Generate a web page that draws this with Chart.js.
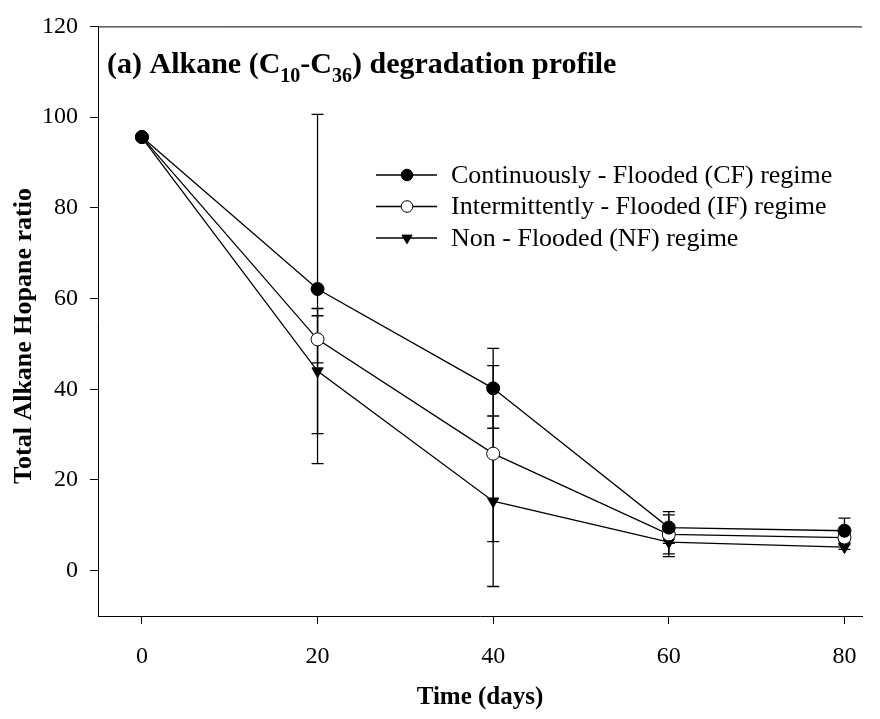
<!DOCTYPE html>
<html>
<head>
<meta charset="utf-8">
<script src="https://cdn.jsdelivr.net/npm/chart.js@4/dist/chart.umd.min.js"></script>
<style>
  html, body { margin: 0; padding: 0; background: #fff; }
  canvas { display: block; }
</style>
</head>
<body>
<canvas id="c" width="880" height="719"></canvas>
<script>
// data
const days = [0, 20, 40, 60, 80];
const cfMean = [95.6, 62.1, 40.2, 9.5, 8.8];
const cfErr  = [0, 38.5, 8.8, 3.5, 2.8];
const ifMean = [95.6, 51.0, 25.8, 8.0, 7.3];
const ifErr  = [0, 5.2, 19.4, 4.3, 1.0];
const nfMean = [95.5, 44.0, 15.3, 6.3, 5.2];
const nfErr  = [0, 13.8, 18.8, 3.2, 0.5];
const seriesLabels = [
  'Continuously - Flooded (CF) regime',
  'Intermittently - Flooded (IF) regime',
  'Non - Flooded (NF) regime'
];
const xTicks = [0, 20, 40, 60, 80];
const yTicks = [0, 20, 40, 60, 80, 100, 120];

const SERIF = '"Liberation Serif", "Times New Roman", serif';

function pts(mean) {
  return days.map((d, i) => ({ x: d, y: mean[i] }));
}

const errs = [cfErr, ifErr, nfErr];

// error bars, drawn under the markers
const errorBars = {
  id: 'errorBars',
  beforeDatasetsDraw(chart) {
    const ctx = chart.ctx;
    const xs = chart.scales.x, ys = chart.scales.y;
    ctx.save();
    ctx.strokeStyle = '#000';
    ctx.lineWidth = 1.3;
    chart.data.datasets.forEach((ds, k) => {
      ds.data.forEach((p, i) => {
        const e = errs[k][i];
        if (!e) return;
        const px = xs.getPixelForValue(p.x);
        const top = ys.getPixelForValue(p.y + e);
        const bot = ys.getPixelForValue(p.y - e);
        ctx.beginPath();
        ctx.moveTo(px, top); ctx.lineTo(px, bot);
        ctx.moveTo(px - 6, top); ctx.lineTo(px + 6, top);
        ctx.moveTo(px - 6, bot); ctx.lineTo(px + 6, bot);
        ctx.stroke();
      });
    });
    ctx.restore();
  }
};

// top frame line, title with subscripts, y title, legend
const decor = {
  id: 'decor',
  afterDraw(chart) {
    const ctx = chart.ctx;
    const a = chart.chartArea;
    ctx.save();
    ctx.strokeStyle = '#000';
    ctx.lineWidth = 1;
    ctx.beginPath();
    ctx.moveTo(a.left, a.top + 0.5);
    ctx.lineTo(a.right, a.top + 0.5);
    ctx.stroke();

    // title
    ctx.fillStyle = '#000';
    ctx.textBaseline = 'alphabetic';
    const big = 'bold 30px ' + SERIF, small = 'bold 20px ' + SERIF;
    const parts = [
      ['(a) Alkane (C', big, 0],
      ['10', small, 9],
      ['-C', big, 0],
      ['36', small, 9],
      [') degradation profile', big, 0]
    ];
    let x = 107;
    parts.forEach(([t, f, dy]) => {
      ctx.font = f;
      ctx.fillText(t, x, 73 + dy);
      x += ctx.measureText(t).width;
    });

    // y axis title
    ctx.save();
    ctx.translate(24, 336);
    ctx.rotate(-Math.PI / 2);
    ctx.font = 'bold 26px ' + SERIF;
    ctx.textAlign = 'center';
    ctx.textBaseline = 'middle';
    ctx.fillText('Total Alkane Hopane ratio', 0, 0);
    ctx.restore();

    // legend
    ctx.textBaseline = 'middle';
    chart.data.datasets.forEach((ds, k) => {
      const y = 175 + k * 31.5;
      ctx.strokeStyle = '#000';
      ctx.lineWidth = 1.3;
      ctx.beginPath();
      ctx.moveTo(376, y); ctx.lineTo(437, y);
      ctx.stroke();
      ctx.fillStyle = ds.pointBackgroundColor;
      ctx.lineWidth = 1;
      Chart.helpers.drawPoint(ctx, {
        pointStyle: ds.pointStyle, radius: 5.8, rotation: ds.pointRotation || 0, borderWidth: 1
      }, 407, y);
      ctx.fillStyle = '#000';
      ctx.font = '26px ' + SERIF;
      ctx.fillText(ds.label, 451, y + 1);
    });
    ctx.restore();
  }
};

new Chart(document.getElementById('c').getContext('2d'), {
  type: 'line',
  data: {
    datasets: [
      { label: seriesLabels[0], data: pts(cfMean), pointStyle: 'circle',
        pointBackgroundColor: '#000' },
      { label: seriesLabels[1], data: pts(ifMean), pointStyle: 'circle',
        pointBackgroundColor: '#fff' },
      { label: seriesLabels[2], data: pts(nfMean), pointStyle: 'triangle',
        pointRotation: 180, pointBackgroundColor: '#000' }
    ].map(ds => Object.assign({
      borderColor: '#000', borderWidth: 1.3, pointBorderColor: '#000',
      pointBorderWidth: 1, pointRadius: 6.5, tension: 0, fill: false
    }, ds))
  },
  options: {
    responsive: false,
    animation: false,
    devicePixelRatio: 1,
    layout: { padding: { top: 16, right: 18, left: 0, bottom: 0 } },
    plugins: { legend: { display: false }, tooltip: { enabled: false } },
    scales: {
      x: {
        type: 'linear', min: -5, max: 82,
        afterBuildTicks: s => { s.ticks = xTicks.map(v => ({ value: v })); },
        afterFit: s => { s.height = 103; },
        grid: { drawOnChartArea: false, drawTicks: true, tickLength: 8, tickColor: '#000' },
        border: { display: true, color: '#000', width: 1 },
        ticks: { color: '#000', font: { family: SERIF, size: 24 }, padding: 18, maxRotation: 0 },
        title: { display: true, text: 'Time (days)', color: '#000',
          font: { family: SERIF, size: 25, weight: 'bold' }, padding: { top: 0, bottom: 6 } }
      },
      y: {
        type: 'linear', min: -10, max: 120,
        afterBuildTicks: s => { s.ticks = yTicks.map(v => ({ value: v })); },
        afterFit: s => { s.width = 98; },
        grid: { drawOnChartArea: false, drawTicks: true, tickLength: 8, tickColor: '#000' },
        border: { display: true, color: '#000', width: 1 },
        ticks: { color: '#000', font: { family: SERIF, size: 24 }, padding: 12 }
      }
    }
  },
  plugins: [errorBars, decor]
});
</script>
</body>
</html>
